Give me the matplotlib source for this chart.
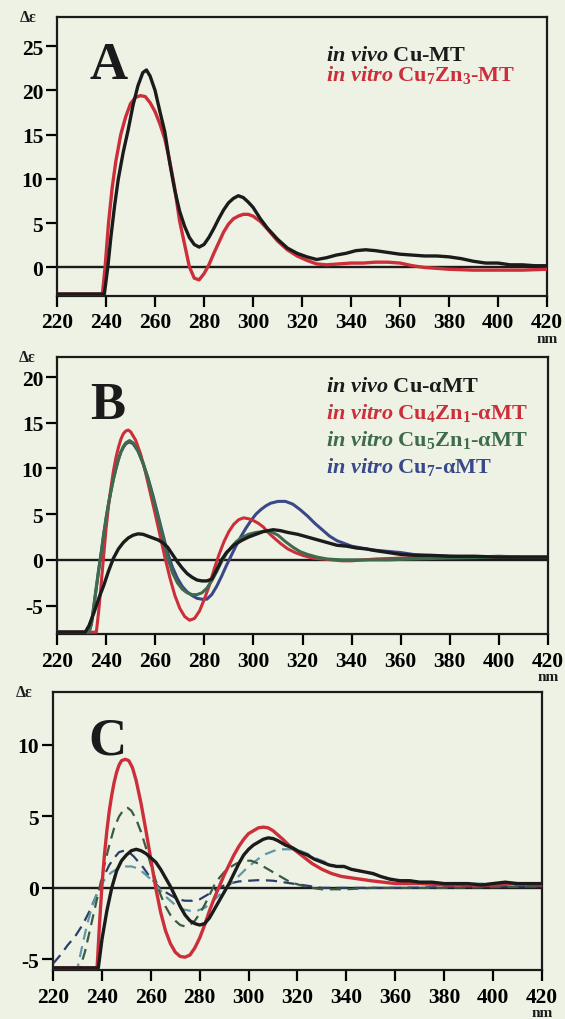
import matplotlib
matplotlib.use('Agg')
import matplotlib.pyplot as plt

plt.rcParams['font.family'] = ['Liberation Serif', 'DejaVu Serif']
plt.rcParams['font.weight'] = 'bold'
plt.rcParams['axes.unicode_minus'] = False
plt.rcParams['mathtext.fontset'] = 'custom'
plt.rcParams['mathtext.rm'] = 'Liberation Serif:bold'
plt.rcParams['mathtext.it'] = 'Liberation Serif:italic:bold'
plt.rcParams['mathtext.bf'] = 'Liberation Serif:bold'

# ---- panel A data ----
a_black_x = [220, 239.3, 240.7, 242, 243.5, 245, 247, 249, 251, 253, 255, 256.5, 258, 260, 262, 264,
             266, 268, 270, 272, 274, 276, 278, 280, 282, 284, 286, 288, 290, 292, 294, 296, 298, 300,
             303, 306, 310, 314, 318, 322, 326, 330, 334, 338, 342, 346, 350, 355, 360, 365, 370, 375,
             380, 385, 390, 395, 400, 405, 410, 415, 420]
a_black_y = [-3.0, -3.0, 0, 3.5, 7, 10, 13, 15.5, 18.3, 20.5, 22, 22.3, 21.6, 20, 17.6, 15.3,
             11.8, 8.8, 6.4, 4.7, 3.4, 2.6, 2.3, 2.6, 3.4, 4.4, 5.5, 6.5, 7.3, 7.8, 8.1, 7.9, 7.4, 6.8,
             5.5, 4.4, 3.2, 2.2, 1.6, 1.2, 0.9, 1.1, 1.4, 1.6, 1.9, 2.0, 1.9, 1.7, 1.5, 1.4, 1.3, 1.3,
             1.2, 1.0, 0.7, 0.5, 0.5, 0.3, 0.3, 0.2, 0.2]
a_red_x = [220, 238.5, 239.6, 241, 242.5, 244, 246, 248, 250, 252, 254, 256, 258, 260, 262, 264, 266,
           268, 270, 272, 274, 276, 278, 280, 282, 284, 286, 288, 290, 292, 294, 296, 298, 300, 303,
           306, 310, 314, 318, 322, 326, 330, 335, 340, 345, 350, 355, 360, 365, 370, 375, 380, 390,
           400, 410, 420]
a_red_y = [-3.0, -3.0, 0, 5, 9, 12, 15, 17, 18.5, 19.2, 19.4, 19.3, 18.6, 17.6, 16.2, 14.5, 12,
           9.0, 5.3, 2.7, 0.1, -1.2, -1.4, -0.7, 0.3, 1.6, 2.8, 4.0, 4.9, 5.5, 5.8, 6.0, 6.0, 5.8, 5.2,
           4.3, 3.0, 2.0, 1.3, 0.8, 0.4, 0.3, 0.4, 0.5, 0.5, 0.6, 0.6, 0.5, 0.2, 0.0, -0.1, -0.2, -0.3,
           -0.3, -0.3, -0.2]

# ---- panel B data ----
b_black_x = [220, 231.5, 233, 235, 237, 239, 241, 243, 245, 247, 249, 251, 253, 255, 257, 259, 261,
             263, 265, 267, 269, 271, 273, 275, 277, 279, 281, 283, 285, 287, 289, 292, 295, 298, 301,
             304, 308, 311, 314, 318, 322, 326, 330, 334, 338, 342, 346, 350, 355, 360, 366, 372, 380,
             390, 400, 410, 420]
b_black_y = [-7.9, -7.9, -7.2, -5.8, -4.2, -2.8, -1.2, 0.2, 1.2, 1.9, 2.4, 2.7, 2.85, 2.8, 2.6, 2.4, 2.2,
             1.9, 1.4, 0.6, -0.2, -0.9, -1.5, -1.9, -2.2, -2.3, -2.3, -2.1, -1.1, 0.0, 0.8, 1.6, 2.1, 2.5, 2.8,
             3.1, 3.3, 3.2, 3.0, 2.8, 2.5, 2.2, 1.9, 1.6, 1.5, 1.3, 1.2, 1.0, 0.8, 0.6, 0.5, 0.5, 0.4,
             0.4, 0.3, 0.3, 0.3]
b_red_x = [220, 236, 237, 238, 239, 240, 241, 242, 243, 244, 245, 246, 247, 248, 249, 250, 252, 254,
           256, 258, 260, 262, 264, 266, 268, 270, 272, 274, 276, 278, 280, 282, 284, 286, 288, 290,
           292, 294, 296, 298, 300, 302, 304, 306, 308, 311, 314, 317, 320, 324, 328, 332, 336, 340,
           345, 350, 360, 370, 380, 390, 400, 410, 420]
b_red_y = [-7.9, -7.9, -5.5, -2.5, 0.5, 3.5, 6.0, 8.0, 9.8, 11.2, 12.3, 13.2, 13.8, 14.1, 14.2, 14.0,
           13.1, 11.6, 9.6, 7.3, 5.0, 2.6, 0.2, -2.0, -3.9, -5.3, -6.2, -6.6, -6.4, -5.6, -4.3, -2.8,
           -1.0, 0.6, 2.0, 3.1, 3.9, 4.4, 4.6, 4.5, 4.3, 4.0, 3.6, 3.0, 2.5, 1.8, 1.2, 0.8, 0.5, 0.2,
           0.1, 0.0, -0.1, -0.1, 0.0, 0.1, 0.2, 0.3, 0.3, 0.3, 0.3, 0.3, 0.3]
b_green_x = [220, 233, 234, 235, 236, 237, 238, 239, 240, 241, 242, 243, 244, 245, 246, 247, 248, 249.5,
             251, 253, 255, 257, 259, 261, 263, 265, 267, 269, 271, 273, 275, 277, 279, 281, 283, 285,
             287, 289, 291, 293, 295, 298, 301, 304, 307, 310, 313, 316, 319, 322, 326, 330, 336, 345,
             355, 365, 380, 400, 420]
b_green_y = [-7.9, -7.9, -7.0, -5.0, -3.0, -1.0, 0.8, 2.8, 4.6, 6.2, 7.6, 8.9, 10.0, 11.0, 11.8, 12.4,
             12.8, 13.05, 12.8, 11.9, 10.6, 8.9, 6.9, 4.8, 2.6, 0.3, -1.4, -2.5, -3.2, -3.6, -3.8, -3.8,
             -3.6, -3.1, -2.3, -1.3, -0.2, 0.7, 1.4, 2.0, 2.4, 2.8, 3.0, 3.1, 3.1, 2.7, 2.0, 1.4, 0.9,
             0.6, 0.3, 0.1, 0.0, 0.0, 0.0, 0.1, 0.2, 0.3, 0.3]
b_blue_x = [220, 233, 234, 235, 236, 237, 238, 239, 240, 241, 242, 243, 244, 245, 246, 247, 248, 249.5,
            251, 253, 255, 257, 259, 261, 263, 265, 267, 269, 271, 273, 275, 277, 279, 281, 283, 285,
            287, 289, 291, 293, 295, 297, 299, 301, 303, 305, 307, 310, 313, 316, 319, 322, 325, 328,
            331, 334, 337, 340, 344, 348, 352, 356, 360, 365, 370, 380, 390, 400, 410, 420]
b_blue_y = [-7.9, -7.9, -7.0, -5.0, -3.0, -1.0, 0.8, 2.8, 4.6, 6.2, 7.6, 8.9, 10.0, 11.0, 11.8, 12.3,
            12.7, 12.9, 12.7, 11.9, 10.6, 9.0, 7.1, 5.0, 2.9, 0.8, -0.8, -2.0, -2.9, -3.5, -3.9, -4.2,
            -4.3, -4.3, -3.8, -2.9, -1.8, -0.6, 0.5, 1.6, 2.6, 3.5, 4.3, 5.0, 5.5, 5.9, 6.2, 6.4, 6.4,
            6.1, 5.5, 4.8, 4.0, 3.3, 2.6, 2.1, 1.8, 1.5, 1.3, 1.1, 1.0, 0.9, 0.8, 0.6, 0.5, 0.4, 0.3,
            0.4, 0.3, 0.3]

# ---- panel C data ----
c_red_x = [220, 238, 239, 240, 241, 242, 243, 244, 245, 246, 247, 248, 249.5, 251, 252.5, 254, 256,
           258, 260, 262, 264, 266, 268, 270, 272, 274, 276, 278, 280, 282, 284, 286, 288, 290, 292,
           294, 296, 298, 300, 302, 304, 306, 308, 310, 312, 314, 317, 320, 323, 326, 330, 334, 338,
           342, 346, 350, 355, 360, 370, 380, 390, 400, 410, 420]
c_red_y = [-5.6, -5.6, -2.5, 0.2, 2.3, 4.0, 5.4, 6.5, 7.4, 8.1, 8.6, 8.9, 9.0, 8.9, 8.4, 7.5, 5.9,
           4.0, 2.0, 0.0, -1.7, -3.0, -3.9, -4.5, -4.8, -4.85, -4.7, -4.2, -3.5, -2.6, -1.6, -0.7, 0.1,
           0.9, 1.6, 2.3, 2.9, 3.4, 3.8, 4.0, 4.2, 4.25, 4.2, 4.0, 3.7, 3.4, 2.9, 2.5, 2.1, 1.7, 1.3,
           1.0, 0.8, 0.7, 0.6, 0.5, 0.4, 0.3, 0.3, 0.2, 0.2, 0.2, 0.3, 0.2]
c_black_x = [220, 238.5, 240, 242, 244, 246, 248, 250, 252, 254, 256, 258, 260, 262, 264, 266, 268,
             270, 272, 274, 276, 278, 280, 282, 284, 286, 288, 290, 292, 294, 296, 298, 300, 302, 304,
             306, 308, 310, 312, 315, 318, 321, 324, 327, 330, 333, 336, 339, 342, 345, 348, 351, 354,
             358, 362, 366, 370, 375, 380, 385, 390, 395, 400, 405, 410, 415, 420]
c_black_y = [-5.6, -5.6, -3.6, -1.6, 0.0, 1.2, 1.9, 2.3, 2.6, 2.7, 2.6, 2.4, 2.1, 1.8, 1.3, 0.7, 0.1,
             -0.6, -1.3, -1.9, -2.3, -2.5, -2.6, -2.5, -2.1, -1.5, -0.9, -0.3, 0.3, 1.0, 1.7, 2.3, 2.7,
             3.0, 3.2, 3.4, 3.5, 3.45, 3.3, 3.0, 2.8, 2.5, 2.3, 2.0, 1.8, 1.6, 1.5, 1.5, 1.3, 1.2, 1.1,
             1.0, 0.8, 0.6, 0.5, 0.5, 0.4, 0.4, 0.3, 0.3, 0.3, 0.2, 0.3, 0.4, 0.3, 0.3, 0.3]
c_dgreen_x = [220, 231, 233, 235, 237, 239, 241, 243, 245, 247, 249, 250.5, 252, 254, 256, 258, 260,
              262, 264, 266, 268, 270, 272, 274, 276, 278, 280, 282, 284, 286, 288, 290, 292, 295, 298,
              301, 304, 307, 310, 313, 316, 319, 322, 326, 330, 340, 350, 360, 380, 400, 420]
c_dgreen_y = [-5.6, -5.6, -4.5, -3.0, -1.5, 0.0, 1.6, 3.0, 4.2, 5.0, 5.5, 5.6, 5.4, 4.8, 3.9, 2.8, 1.6,
              0.5, -0.5, -1.3, -1.9, -2.3, -2.6, -2.7, -2.6, -2.3, -1.8, -1.2, -0.5, 0.2, 0.7, 1.1, 1.4,
              1.7, 1.9, 1.9, 1.7, 1.4, 1.1, 0.8, 0.5, 0.3, 0.15, 0.0, -0.1, -0.1, 0.0, 0.0, 0.0, 0.05, 0.1]
c_navy_x = [220, 223, 226, 229, 232, 235, 237, 239, 241, 243, 245, 247, 249, 251, 253, 255, 257, 259,
            261, 263, 265, 268, 271, 274, 277, 280, 283, 286, 289, 292, 296, 300, 305, 310, 314, 318,
            322, 326, 330, 340, 360, 380, 400, 420]
c_navy_y = [-5.3, -4.7, -4.0, -3.4, -2.6, -1.6, -0.8, 0.0, 0.9, 1.6, 2.1, 2.5, 2.6, 2.5, 2.2, 1.8, 1.4,
            0.9, 0.5, 0.1, -0.2, -0.5, -0.8, -0.9, -0.9, -0.8, -0.5, -0.2, 0.1, 0.3, 0.45, 0.5, 0.55,
            0.5, 0.4, 0.3, 0.2, 0.1, 0.0, 0.0, 0.0, 0.05, 0.1, 0.1]
c_teal_x = [220, 230, 232, 234, 236, 238, 240, 242, 244, 246, 248, 250, 252, 254, 256, 258, 260, 262,
            264, 266, 268, 270, 273, 276, 279, 282, 285, 288, 291, 294, 297, 300, 303, 306, 309, 312,
            315, 318, 321, 324, 327, 330, 333, 336, 340, 344, 348, 352, 356, 360, 365, 370, 380, 390,
            400, 410, 420]
c_teal_y = [-5.6, -5.6, -4.0, -2.5, -1.3, -0.4, 0.3, 0.8, 1.1, 1.3, 1.4, 1.5, 1.5, 1.4, 1.2, 0.9, 0.6,
            0.2, -0.2, -0.6, -0.9, -1.2, -1.5, -1.6, -1.6, -1.4, -1.0, -0.5, 0.0, 0.5, 1.0, 1.5, 1.9,
            2.3, 2.5, 2.7, 2.7, 2.7, 2.6, 2.4, 2.1, 1.9, 1.7, 1.5, 1.4, 1.2, 1.1, 0.9, 0.7, 0.6, 0.5,
            0.4, 0.3, 0.3, 0.3, 0.3, 0.3]

x_ticks = [220, 240, 260, 280, 300, 320, 340, 360, 380, 400, 420]

bg = '#edf2e4'
black = '#1b1b1b'
red = '#cc2e3a'
green = '#3e6b4c'
blue = '#3a4889'
dgreen = '#3b5a44'
navy = '#2e3c68'
teal = '#5e98a6'

fig = plt.figure(figsize=(5.65, 10.2), dpi=100)
fig.patch.set_facecolor(bg)


def setup_axes(rect, ylim, yticks, letter, letter_x):
    ax = fig.add_axes(rect)
    ax.set_facecolor(bg)
    ax.set_xlim(220, 420)
    ax.set_ylim(*ylim)
    ax.set_xticks(x_ticks)
    ax.set_yticks(yticks)
    ax.tick_params(direction='out', length=8, width=1.6, labelsize=15.5, pad=2)
    ax.tick_params(axis='x', pad=4)
    for lab in ax.get_xticklabels() + ax.get_yticklabels():
        lab.set_fontweight('bold')
    for s in ax.spines.values():
        s.set_linewidth(1.6)
        s.set_color(black)
    ax.axhline(0, color=black, lw=1.7, zorder=1)
    ax.text(letter_x, 0.78, letter, transform=ax.transAxes, fontsize=38,
            fontweight='bold', va='baseline', ha='left', color=black)
    ax.text(-0.06, 1.0, 'Δε', transform=ax.transAxes, fontsize=11.5,
            fontweight='bold', ha='center', va='center', color=black)
    ax.text(1.0, -0.13, 'nm', transform=ax.transAxes, fontsize=11,
            fontweight='bold', ha='center', va='top', color=black)
    return ax


# panel A
ax = setup_axes([0.101, 0.709, 0.867, 0.2735], (-3.2, 28.3), [0, 5, 10, 15, 20, 25], 'A', 0.067)
ax.plot(a_red_x, a_red_y, color=red, lw=2.4, zorder=3)
ax.plot(a_black_x, a_black_y, color=black, lw=2.4, zorder=4)
ax.text(0.549, 0.846, r'$\mathit{in\ vivo}$ Cu-MT', transform=ax.transAxes,
        fontsize=16, color=black, va='baseline')
ax.text(0.549, 0.774, r'$\mathit{in\ vitro}$ Cu$_7$Zn$_3$-MT', transform=ax.transAxes,
        fontsize=16, color=red, va='baseline')

# panel B
ax = setup_axes([0.101, 0.3775, 0.869, 0.2716], (-8.1, 22.2), [-5, 0, 5, 10, 15, 20], 'B', 0.067)
ax.plot(b_blue_x, b_blue_y, color=blue, lw=2.2, zorder=3)
ax.plot(b_red_x, b_red_y, color=red, lw=2.2, zorder=3)
ax.plot(b_green_x, b_green_y, color=green, lw=2.2, zorder=4)
ax.plot(b_black_x, b_black_y, color=black, lw=2.4, zorder=5)
b_labels = [(r'$\mathit{in\ vivo}$ Cu-αMT', black),
            (r'$\mathit{in\ vitro}$ Cu$_4$Zn$_1$-αMT', red),
            (r'$\mathit{in\ vitro}$ Cu$_5$Zn$_1$-αMT', green),
            (r'$\mathit{in\ vitro}$ Cu$_7$-αMT', blue)]
for i, (txt, col) in enumerate(b_labels):
    ax.text(0.547, 0.877 - i * 0.097, txt, transform=ax.transAxes,
            fontsize=16, color=col, va='baseline')

# panel C
ax = setup_axes([0.094, 0.048, 0.865, 0.2725], (-5.75, 13.7), [-5, 0, 5, 10], 'C', 0.072)
dash = (0, (5, 3))
ax.plot(c_navy_x, c_navy_y, color=navy, lw=1.6, ls=dash, zorder=3)
ax.plot(c_teal_x, c_teal_y, color=teal, lw=1.6, ls=dash, zorder=3)
ax.plot(c_dgreen_x, c_dgreen_y, color=dgreen, lw=1.6, ls=dash, zorder=3)
ax.plot(c_red_x, c_red_y, color=red, lw=2.4, zorder=4)
ax.plot(c_black_x, c_black_y, color=black, lw=2.4, zorder=5)

fig.savefig('out.png', dpi=100, facecolor=bg)
